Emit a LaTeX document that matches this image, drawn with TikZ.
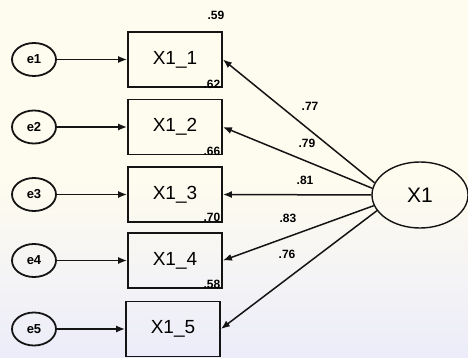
\documentclass[tikz,border=0pt]{standalone}
\usepackage{fontspec}
\setmainfont{Liberation Sans}
\usetikzlibrary{arrows.meta,shapes.geometric}
\definecolor{paper}{RGB}{254,252,238}
\definecolor{paperlow}{RGB}{236,236,250}
\definecolor{ink}{RGB}{20,20,20}
\begin{document}
\begin{tikzpicture}[x=1pt,y=-1pt,
  indicator/.style={draw=ink,line width=1.8pt,minimum width=94pt,minimum height=55pt,
    inner sep=0pt,font=\fontsize{19}{22}\selectfont},
  errterm/.style={draw=ink,ellipse,line width=1.8pt,minimum width=44pt,minimum height=33pt,
    inner sep=0pt,font=\fontsize{13}{15}\selectfont\bfseries},
  latent/.style={draw=ink,ellipse,line width=1.4pt,minimum width=96pt,minimum height=66pt,
    inner sep=0pt,font=\fontsize{21}{24}\selectfont},
  path/.style={draw=ink,line width=1.5pt,-{Latex[length=9pt,width=7pt]}},
  coef/.style={inner sep=0pt,font=\fontsize{12}{14}\selectfont\bfseries}]
  % page and background
  \useasboundingbox (0,0) rectangle (468,358);
  \shade[top color=paper,bottom color=paperlow,middle color=paper] (0,0) rectangle (468,358);

  % observed indicators
  \node[indicator] (b1) at (175,59.5) {X1\_1};
  \node[indicator] (b2) at (175,127) {X1\_2};
  \node[indicator] (b3) at (175,194.5) {X1\_3};
  \node[indicator] (b4) at (175,260.5) {X1\_4};
  \node[indicator] (b5) at (173,329) {X1\_5};

  % error terms
  \node[errterm] (e1) at (34,59.5) {e1};
  \node[errterm] (e2) at (34,127) {e2};
  \node[errterm] (e3) at (34,194.5) {e3};
  \node[errterm] (e4) at (34,260.5) {e4};
  \node[errterm] (e5) at (34,329) {e5};

  % latent factor
  \node[latent] (f) at (420,195) {X1};

  % error paths
  \foreach \i in {1,...,5} \draw[path] (e\i) -- (b\i);

  % factor loadings
  \draw[path] (f.165) -- (b1.east);
  \draw[path] (f.172) -- (b2.east);
  \draw[path] (f.west) -- (b3.east);
  \draw[path] (f.193) -- (b4.east);
  \draw[path] (f.200) -- (b5.east);

  \node[coef] (l1) at (310,106) {.77};
  \node[coef] (l2) at (307,143) {.79};
  \node[coef] (l3) at (305,180) {.81};
  \node[coef] (l4) at (288,218) {.83};
  \node[coef] (l5) at (287,254) {.76};

  % squared multiple correlations
  \node[coef] (r1) at (216,15) {.59};
  \node[coef] (r2) at (212,84) {.62};
  \node[coef] (r3) at (212,151) {.66};
  \node[coef] (r4) at (212,217) {.70};
  \node[coef] (r5) at (212,284) {.58};
\end{tikzpicture}
\end{document}
